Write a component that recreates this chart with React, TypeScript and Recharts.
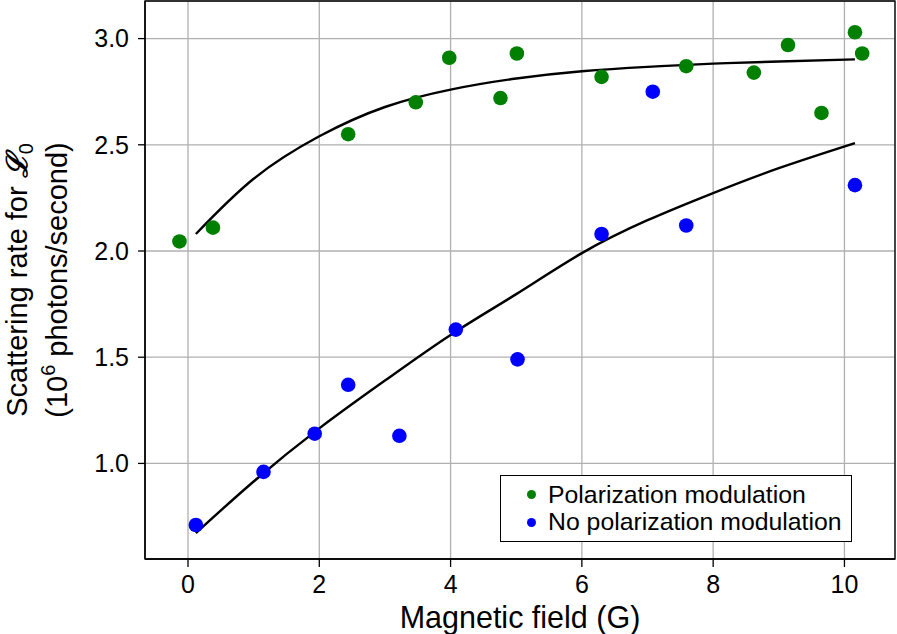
import {
  ComposedChart,
  Scatter,
  Line,
  XAxis,
  YAxis,
  CartesianGrid,
  Legend,
  ReferenceArea,
} from 'recharts';

// measured points, field in G, rate in 10^6 photons/s
const polField = [-0.13, 0.38, 2.44, 3.47, 3.98, 4.76, 5.01, 6.3, 7.59, 8.62, 9.14, 9.65, 10.16, 10.27];
const polRate = [2.045, 2.11, 2.55, 2.7, 2.91, 2.72, 2.93, 2.82, 2.87, 2.84, 2.97, 2.65, 3.03, 2.93];

const noPolField = [0.12, 1.15, 1.93, 2.44, 3.22, 4.08, 5.02, 6.3, 7.08, 7.59, 10.16];
const noPolRate = [0.71, 0.96, 1.14, 1.37, 1.13, 1.63, 1.49, 2.08, 2.75, 2.12, 2.31];

// fit curves
const fitField = [0.12, 1, 2, 3, 4, 5, 6, 7, 8, 9, 10.16];
const polFitRate = [2.08, 2.34, 2.54, 2.678, 2.76, 2.812, 2.846, 2.867, 2.882, 2.892, 2.902];
const noPolFitRate = [0.672, 0.915, 1.165, 1.39, 1.605, 1.797, 1.99, 2.145, 2.273, 2.39, 2.508];

const xTicks = [0, 2, 4, 6, 8, 10];
const yTicks = [1.0, 1.5, 2.0, 2.5, 3.0];

const X_DOMAIN: [number, number] = [-0.655, 10.77];
const Y_DOMAIN: [number, number] = [0.55, 3.177];

const FONT = '"Liberation Sans", Arial, sans-serif';
const GREEN = '#008000';
const BLUE = '#0000ff';

const zip = (xs: number[], ys: number[]) => xs.map((x, i) => ({ x, y: ys[i] }));

const polData = zip(polField, polRate);
const noPolData = zip(noPolField, noPolRate);
const polFit = zip(fitField, polFitRate);
const noPolFit = zip(fitField, noPolFitRate);

const dot = (color: string) => (props: any) =>
  <circle cx={props.cx} cy={props.cy} r={7.3} fill={color} />;

function YLabel(props: any) {
  const vb = props.viewBox || { y: 1, height: 558 };
  const cy = vb.y + vb.height / 2;
  return (
    <g fontFamily={FONT} fontSize={29} fill="#000">
      <text x={27} y={cy} transform={`rotate(-90, 27, ${cy})`} textAnchor="middle">
        Scattering rate for{' '}
        <tspan fontStyle="italic" fontWeight="bold" fontFamily="DejaVu Serif, serif">ℒ</tspan>
        <tspan fontSize={20} dy={6}>0</tspan>
      </text>
      <text x={67} y={cy} transform={`rotate(-90, 67, ${cy})`} textAnchor="middle">
        (10<tspan fontSize={20} dy={-12}>6</tspan>
        <tspan dy={12}> photons/second)</tspan>
      </text>
    </g>
  );
}

function XLabel(props: any) {
  const vb = props.viewBox || { x: 145, width: 750 };
  return (
    <text x={vb.x + vb.width / 2} y={628} textAnchor="middle" fontFamily={FONT} fontSize={30.5} fill="#000">
      Magnetic field (G)
    </text>
  );
}

function LegendBox() {
  const rows = [
    { color: GREEN, label: 'Polarization modulation', top: 19.7 },
    { color: BLUE, label: 'No polarization modulation', top: 47 },
  ];
  return (
    <div
      style={{
        position: 'relative',
        width: 352,
        height: 67,
        boxSizing: 'border-box',
        border: '1.5px solid #000',
        background: '#fff',
        fontFamily: FONT,
        fontSize: 24.8,
        color: '#000',
      }}
    >
      {rows.map((r) => (
        <div key={r.label}>
          <span
            style={{
              position: 'absolute',
              left: 25.5,
              top: r.top - 5.5,
              width: 9,
              height: 9,
              borderRadius: '50%',
              background: r.color,
            }}
          />
          <span
            style={{
              position: 'absolute',
              left: 47,
              top: r.top - 15,
              lineHeight: '28px',
              whiteSpace: 'nowrap',
            }}
          >
            {r.label}
          </span>
        </div>
      ))}
    </div>
  );
}

export default function App() {
  return (
    <div style={{ position: 'absolute', left: 0, top: 0, background: '#fff' }}>
      <ComposedChart width={897} height={634} margin={{ top: 1, right: 2, bottom: 0, left: 0 }}>
        <CartesianGrid stroke="#b0b0b0" strokeWidth={1.3} />
        <XAxis
          type="number"
          dataKey="x"
          domain={X_DOMAIN}
          allowDataOverflow
          ticks={xTicks}
          height={75}
          tickSize={8}
          tickMargin={8}
          axisLine={{ stroke: '#000', strokeWidth: 1.3 }}
          tickLine={{ stroke: '#000', strokeWidth: 1.3 }}
          tick={{ fill: '#000', fontSize: 25, fontFamily: FONT }}
          label={<XLabel />}
        />
        <YAxis
          type="number"
          dataKey="y"
          domain={Y_DOMAIN}
          allowDataOverflow
          ticks={yTicks}
          width={145}
          tickSize={7}
          tickMargin={9}
          tickFormatter={(v: number) => v.toFixed(1)}
          axisLine={{ stroke: '#000', strokeWidth: 1.3 }}
          tickLine={{ stroke: '#000', strokeWidth: 1.3 }}
          tick={{ fill: '#000', fontSize: 25, fontFamily: FONT }}
          label={<YLabel />}
        />
        <ReferenceArea
          x1={X_DOMAIN[0]}
          x2={X_DOMAIN[1]}
          y1={Y_DOMAIN[0]}
          y2={Y_DOMAIN[1]}
          fill="none"
          stroke="#000"
          strokeWidth={1.3}
        />
        <Line
          data={polFit}
          dataKey="y"
          type="natural"
          stroke="#000"
          strokeWidth={2.4}
          dot={false}
          legendType="none"
          isAnimationActive={false}
        />
        <Line
          data={noPolFit}
          dataKey="y"
          type="natural"
          stroke="#000"
          strokeWidth={2.4}
          dot={false}
          legendType="none"
          isAnimationActive={false}
        />
        <Scatter
          name="Polarization modulation"
          data={polData}
          fill={GREEN}
          shape={dot(GREEN)}
          isAnimationActive={false}
        />
        <Scatter
          name="No polarization modulation"
          data={noPolData}
          fill={BLUE}
          shape={dot(BLUE)}
          isAnimationActive={false}
        />
        <Legend
          layout="vertical"
          align="center"
          verticalAlign="middle"
          content={<LegendBox />}
          wrapperStyle={{ left: 500, top: 475, width: 353, height: 67 }}
        />
      </ComposedChart>
    </div>
  );
}
